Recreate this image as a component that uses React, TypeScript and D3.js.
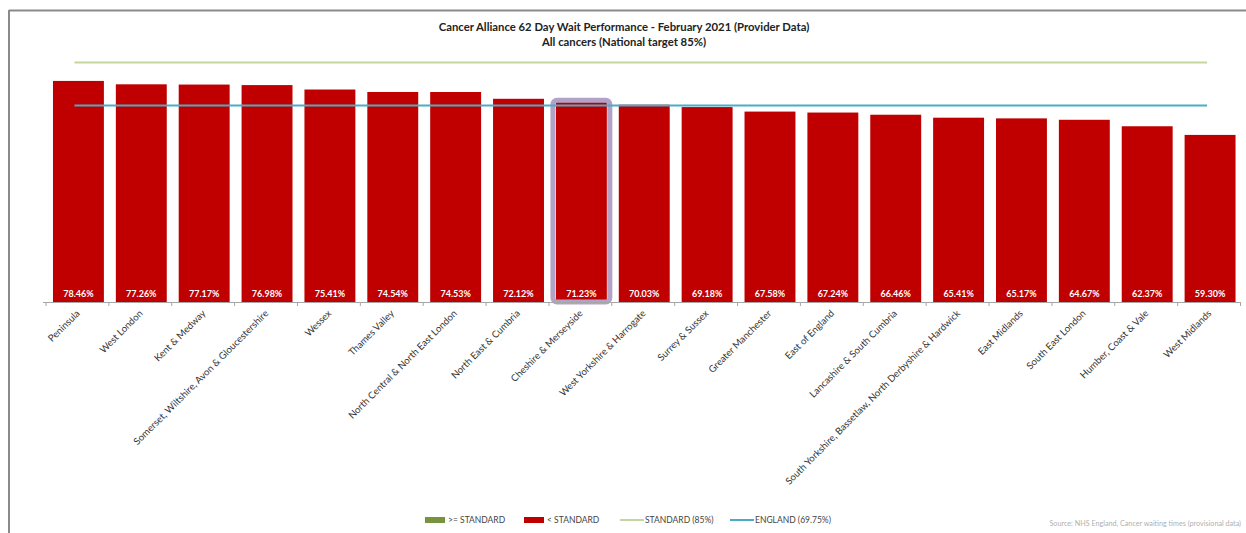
import React from "react";
import * as d3 from "d3";

const categories = [
  "Peninsula",
  "West London",
  "Kent & Medway",
  "Somerset, Wiltshire, Avon & Gloucestershire",
  "Wessex",
  "Thames Valley",
  "North Central & North East London",
  "North East & Cumbria",
  "Cheshire & Merseyside",
  "West Yorkshire & Harrogate",
  "Surrey & Sussex",
  "Greater Manchester",
  "East of England",
  "Lancashire & South Cumbria",
  "South Yorkshire, Bassetlaw, North Derbyshire & Hardwick",
  "East Midlands",
  "South East London",
  "Humber, Coast & Vale",
  "West Midlands",
];
const values = [
  78.46, 77.26, 77.17, 76.98, 75.41, 74.54, 74.53, 72.12, 71.23, 70.03, 69.18,
  67.58, 67.24, 66.46, 65.41, 65.17, 64.67, 62.37, 59.3,
];
const standard = 85;
const england = 69.75;
const highlighted = "Cheshire & Merseyside";
const titleLines = [
  "Cancer Alliance 62 Day Wait Performance - February 2021 (Provider Data)",
  "All cancers (National target 85%)",
];
const legendItems = [
  { label: ">= STANDARD", kind: "box", color: "#77933c" },
  { label: "< STANDARD", kind: "box", color: "#c00000" },
  { label: "STANDARD (85%)", kind: "line", color: "#c4d79b" },
  { label: "ENGLAND (69.75%)", kind: "line", color: "#4bacc6" },
];
const sourceText = "Source: NHS England, Cancer waiting times (provisional data)";

const W = 1246;
const H = 533;
const FONT = "Lato, 'Open Sans', sans-serif";

export default function App() {
  const x = d3
    .scaleBand<string>()
    .domain(categories)
    .range([47, 1241.5])
    .paddingInner(0.19)
    .paddingOuter(0.095);
  const y = d3.scaleLinear().domain([0, 85]).range([302, 62.5]);
  const bw = x.bandwidth();
  const step = x.step();
  const first = x(categories[0])! + bw / 2;
  const last = x(categories[categories.length - 1])! + bw / 2;
  const baseY = y(0);

  const legendX = [425, 524, 620, 730];

  return (
    <svg
      width={W}
      height={H}
      style={{ position: "absolute", left: 0, top: 0, background: "#fff" }}
      fontFamily={FONT}
    >
      <rect x={0} y={0} width={W} height={H} fill="#fff" />
      {/* frame */}
      <line x1={9} y1={10.5} x2={W} y2={10.5} stroke="#8a8a8a" strokeWidth={2} />
      <line x1={9} y1={10} x2={9} y2={H} stroke="#8a8a8a" strokeWidth={2} />

      {/* title */}
      {titleLines.map((t, i) => (
        <text
          key={i}
          x={624}
          y={31 + i * 15}
          textAnchor="middle"
          fontSize={11.3}
          fontWeight={700}
          fill="#222"
        >
          {t}
        </text>
      ))}

      {/* bars */}
      {categories.map((c, i) => (
        <rect
          key={c}
          x={x(c)!}
          y={y(values[i])}
          width={bw}
          height={baseY - y(values[i])}
          fill={values[i] >= standard ? "#77933c" : "#c00000"}
        />
      ))}

      {/* highlight */}
      {categories.map((c, i) =>
        c === highlighted ? (
          <rect
            key={"h" + c}
            x={x(c)! - 3}
            y={y(values[i]) - 1}
            width={bw + 6}
            height={baseY - y(values[i]) + 1}
            rx={4}
            fill="none"
            stroke="#b3a2c7"
            strokeWidth={5}
          />
        ) : null
      )}

      {/* reference lines */}
      <line
        x1={first - 4}
        x2={last - 3}
        y1={y(standard)}
        y2={y(standard)}
        stroke="#c4d79b"
        strokeWidth={2}
      />
      <line
        x1={first - 4}
        x2={last - 3}
        y1={y(england)}
        y2={y(england)}
        stroke="#4bacc6"
        strokeWidth={2}
      />

      {/* value labels */}
      {categories.map((c, i) => (
        <text
          key={"v" + c}
          x={x(c)! + bw / 2}
          y={baseY - 5}
          textAnchor="middle"
          fontSize={9}
          fontWeight={700}
          fill="#fff"
        >
          {values[i].toFixed(2) + "%"}
        </text>
      ))}

      {/* axis */}
      <line x1={43} x2={1241} y1={baseY + 0.5} y2={baseY + 0.5} stroke="#a6a6a6" strokeWidth={1} />
      {d3.range(categories.length + 1).map((k) => {
        const tx = 47 + step * 0.095 - (step * 0.19) / 2 + k * step - 1;
        return (
          <line
            key={"t" + k}
            x1={tx}
            x2={tx}
            y1={baseY}
            y2={baseY + 4}
            stroke="#a6a6a6"
            strokeWidth={1}
          />
        );
      })}

      {/* category labels */}
      {categories.map((c) => (
        <text
          key={"c" + c}
          transform={`translate(${x(c)! + bw / 2 + 2},${baseY + 12}) rotate(-45)`}
          textAnchor="end"
          fontSize={9.6}
          fill="#333"
        >
          {c}
        </text>
      ))}

      {/* legend */}
      {legendItems.map((it, i) => (
        <g key={it.label} transform={`translate(${legendX[i]},520)`}>
          {it.kind === "box" ? (
            <rect x={0} y={-3} width={20} height={6} fill={it.color} />
          ) : (
            <line x1={0} x2={24} y1={0} y2={0} stroke={it.color} strokeWidth={2} />
          )}
          <text x={it.kind === "box" ? 23 : 25} y={3} fontSize={8.5} fill="#444">
            {it.label}
          </text>
        </g>
      ))}

      {/* source */}
      <text x={1241} y={526} textAnchor="end" fontSize={7.2} fill="#b0b0b0">
        {sourceText}
      </text>
    </svg>
  );
}
